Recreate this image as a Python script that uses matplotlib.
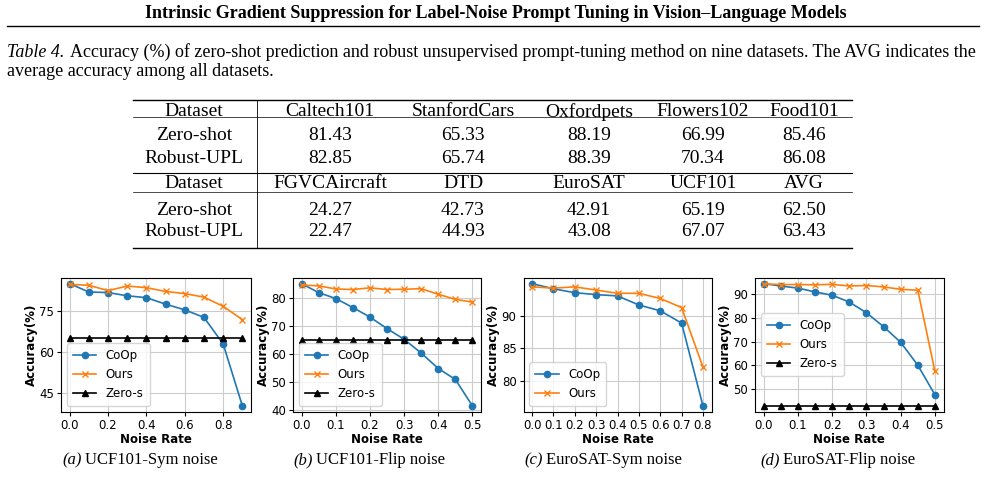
import matplotlib
matplotlib.use("Agg")
import matplotlib.pyplot as plt

# ---- data ----
header = "Intrinsic Gradient Suppression for Label-Noise Prompt Tuning in Vision\u2013Language Models"
caption_lead = "Table 4."
caption_line1 = ("Accuracy (%) of zero-shot prediction and robust unsupervised "
                 "prompt-tuning method on nine datasets. The AVG indicates the")
caption_line2 = "average accuracy among all datasets."

datasets_top = ["Caltech101", "StanfordCars", "Oxfordpets", "Flowers102", "Food101"]
zeroshot_top = ["81.43", "65.33", "88.19", "66.99", "85.46"]
robust_top = ["82.85", "65.74", "88.39", "70.34", "86.08"]
datasets_bot = ["FGVCAircraft", "DTD", "EuroSAT", "UCF101", "AVG"]
zeroshot_bot = ["24.27", "42.73", "42.91", "65.19", "62.50"]
robust_bot = ["22.47", "44.93", "43.08", "67.07", "63.43"]

rates_a = [0.0, 0.1, 0.2, 0.3, 0.4, 0.5, 0.6, 0.7, 0.8, 0.9]
coop_a = [85.3, 82.2, 82.0, 80.8, 80.1, 77.7, 75.6, 72.8, 63.0, 40.1]
ours_a = [85.0, 84.7, 82.7, 84.4, 83.8, 82.4, 81.6, 80.3, 76.9, 72.0]
zs_a = [65.19] * 10

rates_b = [0.0, 0.05, 0.1, 0.15, 0.2, 0.25, 0.3, 0.35, 0.4, 0.45, 0.5]
coop_b = [85.1, 81.9, 79.8, 76.6, 73.2, 69.1, 65.3, 60.4, 54.9, 51.0, 41.6]
ours_b = [84.6, 84.3, 83.2, 83.0, 83.6, 83.0, 83.1, 83.3, 81.3, 79.5, 78.5]
zs_b = [65.19] * 11

rates_c = [0.0, 0.1, 0.2, 0.3, 0.4, 0.5, 0.6, 0.7, 0.8]
coop_c = [95.0, 94.2, 93.6, 93.3, 93.1, 91.7, 90.8, 88.9, 76.1]
ours_c = [94.5, 94.3, 94.5, 94.0, 93.5, 93.5, 92.7, 91.3, 82.1]

rates_d = [0.0, 0.05, 0.1, 0.15, 0.2, 0.25, 0.3, 0.35, 0.4, 0.45, 0.5]
coop_d = [94.6, 93.6, 92.7, 91.1, 89.7, 86.8, 82.3, 76.4, 69.8, 60.1, 47.6]
ours_d = [94.5, 94.2, 94.2, 94.1, 94.3, 93.6, 93.8, 93.2, 92.2, 91.8, 57.5]
zs_d = [42.91] * 11

sub_tags = ["(a)", "(b)", "(c)", "(d)"]
sub_names = ["UCF101-Sym noise", "UCF101-Flip noise", "EuroSAT-Sym noise", "EuroSAT-Flip noise"]

W, H = 985, 495
SERIF = "Liberation Serif"


def fx(x):
    return x / W


def fy(y):
    return 1 - y / H


fig = plt.figure(figsize=(W / 100, H / 100), dpi=100)
renderer = fig.canvas.get_renderer()


def italic_lead(x, y, lead, rest, size, gap=4, center=False):
    # italic lead-in followed by roman text on the same baseline
    t = fig.text(fx(x), fy(y), lead, family=SERIF, style="italic", fontsize=size,
                 ha="left", va="baseline")
    r = fig.text(fx(x), fy(y), rest, family=SERIF, fontsize=size,
                 ha="left", va="baseline")
    w1 = t.get_window_extent(renderer).width
    w2 = r.get_window_extent(renderer).width
    x0 = x - (w1 + gap + w2) / 2 if center else x
    t.set_x(fx(x0))
    r.set_x(fx(x0 + w1 + gap))


# ---- page header ----
fig.text(fx(496), fy(13), header, family=SERIF, weight="bold", fontsize=13,
         ha="center", va="center")
fig.add_artist(plt.Line2D([fx(7), fx(979)], [fy(25.5), fy(25.5)], color="black", lw=1.0))

# ---- caption ----
italic_lead(7, 57, caption_lead, caption_line1, 12.95, gap=6)
fig.text(fx(7), fy(76), caption_line2, family=SERIF, fontsize=12.95, ha="left", va="baseline")

# ---- table ----
tab_left, tab_right = 133, 852
col_x = [194, 330, 463, 589, 703, 804]
row_y = [112, 136, 158.5, 184, 210, 232]
rows = [["Dataset"] + datasets_top,
        ["Zero-shot"] + zeroshot_top,
        ["Robust-UPL"] + robust_top,
        ["Dataset"] + datasets_bot,
        ["Zero-shot"] + zeroshot_bot,
        ["Robust-UPL"] + robust_bot]
for r, cells in enumerate(rows):
    for c, cell in enumerate(cells):
        fig.text(fx(col_x[c]), fy(row_y[r]), cell, family=SERIF, fontsize=14,
                 ha="center", va="center")
for y, lw in [(99.5, 1.0), (117, 0.5), (173.5, 0.8), (192, 0.5), (247.5, 1.0)]:
    fig.add_artist(plt.Line2D([fx(tab_left), fx(tab_right)], [fy(y), fy(y)],
                              color="black", lw=lw))
fig.add_artist(plt.Line2D([fx(257), fx(257)], [fy(99.5), fy(247.5)], color="black", lw=0.6))

# ---- subplots ----
ax_left = [61, 293, 523.5, 755]
ax_right = [251, 481, 711.5, 943.5]
ax_top, ax_bot = 277.5, 412

panels = [
    (rates_a, coop_a, ours_a, zs_a, [0.0, 0.2, 0.4, 0.6, 0.8], [45, 60, 75], "lower left"),
    (rates_b, coop_b, ours_b, zs_b, [0.0, 0.1, 0.2, 0.3, 0.4, 0.5], [40, 50, 60, 70, 80], "lower left"),
    (rates_c, coop_c, ours_c, None, rates_c, [80, 85, 90], "lower left"),
    (rates_d, coop_d, ours_d, zs_d, [0.0, 0.1, 0.2, 0.3, 0.4, 0.5], [50, 60, 70, 80, 90], "center left"),
]

for i, (xs, coop, ours, zs, xt, yt, loc) in enumerate(panels):
    ax = fig.add_axes([fx(ax_left[i]), fy(ax_bot), (ax_right[i] - ax_left[i]) / W,
                       (ax_bot - ax_top) / H])
    ax.plot(xs, coop, marker="o", color="C0", lw=1.2, ms=4.5, label="CoOp")
    ax.plot(xs, ours, marker="x", color="C1", lw=1.2, ms=4.5, label="Ours")
    if zs is not None:
        ax.plot(xs, zs, marker="^", color="black", lw=1.2, ms=4.5, label="Zero-s")
    ax.set_xticks(xt)
    ax.set_xticklabels([f"{v:.1f}" for v in xt])
    ax.set_yticks(yt)
    ax.tick_params(labelsize=8.5, length=3, pad=2)
    ax.grid(True, color="#cccccc", lw=0.8)
    ax.set_axisbelow(True)
    ax.set_xlabel("Noise Rate", fontsize=8.5, weight="bold", labelpad=1)
    ax.set_ylabel("Accuracy(%)", fontsize=8.5, weight="bold", labelpad=1)
    ax.legend(loc=loc, fontsize=8.5, handlelength=2.0, borderpad=0.5, labelspacing=0.5)

# ---- sub-captions, centred under each panel ----
sub_x = [140, 369, 603, 838]
for i in range(4):
    italic_lead(sub_x[i], 464, sub_tags[i], sub_names[i], 12, gap=3, center=True)

plt.savefig("out.png", dpi=100)
